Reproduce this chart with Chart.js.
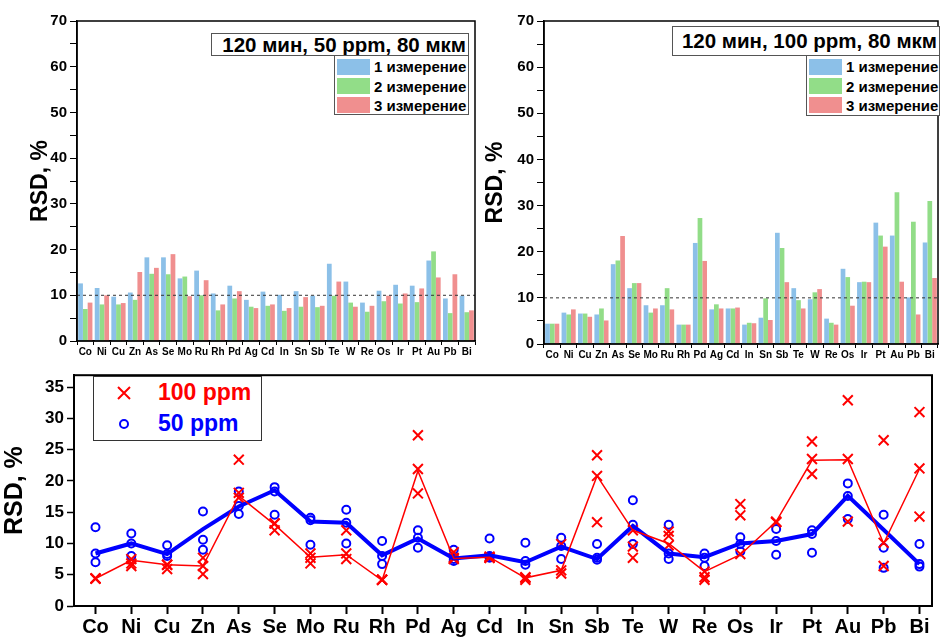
<!DOCTYPE html>
<html>
<head>
<meta charset="utf-8">
<script src="https://cdn.jsdelivr.net/npm/chart.js@4.4.1/dist/chart.umd.min.js"></script>
<style>
  body { margin: 0; background: #fff; font-family: 'Liberation Sans', Arial, sans-serif; }
  #wrap { position: relative; width: 941px; height: 637px; overflow: hidden; }
  canvas { position: absolute; }
  .box { position: absolute; border: 1px solid #555; background: #fff; box-sizing: border-box; font-weight: bold; color: #000; }
  .ttl { font-size: 20.5px; padding-right: 2px; white-space: nowrap; display: flex; align-items: center; justify-content: flex-end; }
  .leg { font-size: 15px; padding-top: 1px; }
  .leg div { height: 19.4px; display: flex; align-items: center; white-space: nowrap; }
  .leg span { display: inline-block; width: 33px; height: 16px; margin: 0 4px 0 2px; }
  .pleg { font-size: 23px; border-color: #333; }
  .pleg div { height: 31px; display: flex; align-items: center; }
  .pleg svg { margin: 0 26px 0 22px; }
</style>
</head>
<body>
<div id="wrap">
  <canvas id="chart50" width="480" height="362" style="left:0;top:0"></canvas>
  <canvas id="chart100" width="461" height="362" style="left:480px;top:0"></canvas>
  <canvas id="chartAll" width="941" height="275" style="left:0;top:362px"></canvas>

  <div class="box ttl" style="left:211px;top:33px;width:258px;height:23px">120 мин, 50 ppm, 80 мкм</div>
  <div class="box leg" style="left:334px;top:55px;width:135px;height:60px">
    <div><span style="background:#8cc0e8"></span>1 измерение</div>
    <div><span style="background:#92dd88"></span>2 измерение</div>
    <div><span style="background:#f08f8f"></span>3 измерение</div>
  </div>

  <div class="box ttl" style="left:672px;top:26px;width:268px;height:30px">120 мин, 100 ppm, 80 мкм</div>
  <div class="box leg" style="left:806px;top:55px;width:134px;height:61px">
    <div><span style="background:#8cc0e8"></span>1 измерение</div>
    <div><span style="background:#92dd88"></span>2 измерение</div>
    <div><span style="background:#f08f8f"></span>3 измерение</div>
  </div>

  <div class="box pleg" style="left:93px;top:376px;width:169px;height:65px">
    <div style="color:#ff0000">
      <svg width="16" height="16"><path d="M2 2L14 14M14 2L2 14" stroke="#ff0000" stroke-width="2"/></svg>100 ppm
    </div>
    <div style="color:#0000ff">
      <svg width="16" height="16"><circle cx="8" cy="8" r="4" fill="none" stroke="#0000ff" stroke-width="2"/></svg>50 ppm
    </div>
  </div>
</div>

<script>
// elements
const elements = ['Co', 'Ni', 'Cu', 'Zn', 'As', 'Se', 'Mo', 'Ru', 'Rh', 'Pd', 'Ag', 'Cd',
  'In', 'Sn', 'Sb', 'Te', 'W', 'Re', 'Os', 'Ir', 'Pt', 'Au', 'Pb', 'Bi'];

// 50 ppm, RSD %
const m50_1 = [12.6, 11.6, 9.7, 10.6, 18.3, 18.3, 13.7, 15.4, 10.4, 12.1, 9.0, 10.8,
  10.1, 10.9, 9.9, 16.9, 13.0, 8.4, 11.0, 12.3, 12.1, 17.6, 9.3, 9.9];
const m50_2 = [7.0, 8.0, 8.0, 9.0, 14.7, 14.6, 14.1, 10.0, 6.7, 9.3, 7.5, 7.7,
  6.6, 7.5, 7.4, 9.9, 8.4, 6.4, 8.7, 8.2, 8.5, 19.6, 6.1, 6.3];
const m50_3 = [8.4, 10.0, 8.3, 15.1, 16.0, 19.0, 9.8, 13.3, 8.0, 10.9, 7.2, 8.0,
  7.2, 9.6, 7.7, 13.0, 7.5, 7.7, 9.9, 10.4, 11.5, 13.9, 14.6, 6.7];

// 100 ppm, RSD %
const m100_1 = [4.4, 6.8, 6.6, 6.4, 17.3, 12.1, 8.4, 8.4, 4.2, 21.9, 7.5, 7.7,
  4.2, 5.7, 24.1, 12.1, 9.7, 5.5, 16.3, 13.4, 26.3, 23.5, 10.1, 22.0];
const m100_2 = [4.4, 6.4, 6.6, 7.7, 18.1, 13.2, 6.8, 12.1, 4.2, 27.3, 8.6, 7.7,
  4.6, 9.9, 20.8, 9.5, 11.2, 4.6, 14.5, 13.5, 23.5, 32.9, 26.5, 31.0];
const m100_3 = [4.4, 7.5, 5.9, 5.1, 23.4, 13.2, 7.7, 7.5, 4.2, 18.0, 7.7, 7.9,
  4.5, 5.2, 13.4, 7.7, 11.9, 4.2, 8.3, 13.4, 21.1, 13.5, 6.4, 14.3];

// lines on the bottom panel
const line50 = [8.4, 10.0, 8.3, 12.3, 15.9, 18.5, 13.5, 13.3, 8.1, 10.8, 7.6, 8.1,
  7.0, 9.5, 7.5, 12.8, 8.4, 7.8, 10.0, 10.4, 11.5, 17.6, 12.2, 6.7];
const line100 = [4.4, 7.3, 6.6, 6.4, 17.6, 13.0, 7.8, 8.2, 4.1, 21.6, 7.6, 7.8,
  4.5, 5.7, 20.8, 12.1, 10.0, 5.5, 8.2, 13.5, 23.3, 23.4, 10.0, 21.9];

const barTicks = [0, 10, 20, 30, 40, 50, 60, 70];
const allTicks = [0, 5, 10, 15, 20, 25, 30, 35];

Chart.defaults.font.family = "'Liberation Sans', Arial, sans-serif";
Chart.defaults.font.weight = 'bold';
Chart.defaults.color = '#000';
Chart.defaults.animation = false;

const framePlugin = {
  id: 'frame',
  afterDraw(chart, args, opts) {
    const { ctx, chartArea: a } = chart;
    ctx.save();
    ctx.strokeStyle = '#000';
    ctx.lineWidth = opts.width || 1.5;
    ctx.strokeRect(a.left, a.top, a.right - a.left, a.bottom - a.top);
    ctx.restore();
  },
};

// dotted line at 10 %
const refLinePlugin = {
  id: 'refLine',
  afterDatasetsDraw(chart, args, opts) {
    if (opts.value === undefined) return;
    const { ctx, chartArea: a } = chart;
    const y = chart.scales.y.getPixelForValue(opts.value);
    ctx.save();
    ctx.strokeStyle = '#333';
    ctx.lineWidth = 1;
    ctx.setLineDash([3, 3]);
    ctx.beginPath();
    ctx.moveTo(a.left, y);
    ctx.lineTo(a.right, y);
    ctx.stroke();
    ctx.restore();
  },
};

function barChart(id, d1, d2, d3, axisWidth, axisHeight, padRight, titlePad) {
  const bar = (label, data, color) => ({
    label: label,
    data: data,
    backgroundColor: color,
    borderWidth: 0,
    categoryPercentage: 0.86,
    barPercentage: 1.0,
  });
  return new Chart(document.getElementById(id), {
    type: 'bar',
    data: {
      labels: elements,
      datasets: [
        bar('1 измерение', d1, '#8cc0e8'),
        bar('2 измерение', d2, '#92dd88'),
        bar('3 измерение', d3, '#f08f8f'),
      ],
    },
    options: {
      responsive: false,
      layout: { padding: { top: 21, right: padRight, left: 0, bottom: 0 } },
      plugins: {
        legend: { display: false },
        tooltip: { enabled: false },
        frame: { width: 1.5 },
        refLine: { value: 10 },
      },
      scales: {
        x: {
          grid: { drawOnChartArea: false, tickLength: 4, color: '#000', offset: true },
          border: { color: '#000', width: 1.5 },
          ticks: { font: { size: 10, weight: 'bold' }, autoSkip: false, maxRotation: 0, padding: 1 },
          afterFit: (s) => { s.height = axisHeight; },
        },
        y: {
          min: 0,
          max: 70,
          ticks: {
            stepSize: 5,
            maxTicksLimit: 20,
            callback: (v) => (barTicks.includes(v) ? v : ''),
            font: { size: 15, weight: 'bold' },
            padding: 3,
          },
          grid: { drawOnChartArea: false, tickLength: 7, color: '#000' },
          border: { color: '#000', width: 1.5 },
          title: {
            display: true,
            text: 'RSD, %',
            font: { size: 23, weight: 'bold' },
            padding: { top: titlePad, bottom: 0 },
          },
          afterFit: (s) => { s.width = axisWidth; },
        },
      },
    },
    plugins: [framePlugin, refLinePlugin],
  });
}

barChart('chart50', m50_1, m50_2, m50_3, 77, 21, 5, 27);
barChart('chart100', m100_1, m100_2, m100_3, 64, 18, 3, 2);

function points(values) {
  return values.map((v, i) => ({ x: i, y: v }));
}

const crosses = (data) => ({
  data: points(data),
  pointStyle: 'crossRot',
  pointRadius: 7,
  borderWidth: 2,
  borderColor: '#ff0000',
  showLine: false,
  order: 3,
});
const circles = (data) => ({
  data: points(data),
  pointStyle: 'circle',
  pointRadius: 4,
  borderWidth: 2,
  borderColor: '#0000ff',
  backgroundColor: 'rgba(0,0,0,0)',
  showLine: false,
  order: 3,
});

new Chart(document.getElementById('chartAll'), {
  type: 'scatter',
  data: {
    datasets: [
      {
        data: points(line100),
        showLine: true,
        borderColor: '#ff0000',
        borderWidth: 1.5,
        pointRadius: 0,
        order: 1,
      },
      {
        data: points(line50),
        showLine: true,
        borderColor: '#0000ff',
        borderWidth: 4,
        pointRadius: 0,
        order: 2,
      },
      crosses(m100_1),
      crosses(m100_2),
      crosses(m100_3),
      circles(m50_1),
      circles(m50_2),
      circles(m50_3),
    ],
  },
  options: {
    responsive: false,
    layout: { padding: { top: 12, right: 3, left: 0, bottom: 0 } },
    plugins: {
      legend: { display: false },
      tooltip: { enabled: false },
      frame: { width: 2 },
    },
    scales: {
      x: {
        type: 'linear',
        min: -0.6,
        max: 23.35,
        afterBuildTicks: (s) => { s.ticks = s.ticks.filter((t) => Number.isInteger(t.value)); },
        ticks: {
          stepSize: 1,
          includeBounds: false,
          maxTicksLimit: 30,
          autoSkip: false,
          maxRotation: 0,
          callback: (v) => elements[v],
          font: { size: 20, weight: 'bold' },
          padding: 1,
        },
        grid: { drawOnChartArea: false, tickLength: 8, tickWidth: 2, color: '#000' },
        border: { color: '#000', width: 2 },
        afterFit: (s) => { s.height = 31; },
      },
      y: {
        min: 0,
        max: 36.9,
        afterBuildTicks: (s) => { s.ticks = s.ticks.filter((t) => t.value % 2.5 === 0); },
        ticks: {
          stepSize: 2.5,
          includeBounds: false,
          maxTicksLimit: 20,
          callback: (v) => (allTicks.includes(v) ? v : ''),
          font: { size: 17, weight: 'bold' },
          padding: 3,
        },
        grid: { drawOnChartArea: false, tickLength: 7, tickWidth: 1.5, color: '#000' },
        border: { color: '#000', width: 2 },
        title: {
          display: true,
          text: 'RSD, %',
          font: { size: 25, weight: 'bold' },
          padding: { top: 0, bottom: 0 },
        },
        afterFit: (s) => { s.width = 74; },
      },
    },
  },
  plugins: [framePlugin],
});
</script>
</body>
</html>
